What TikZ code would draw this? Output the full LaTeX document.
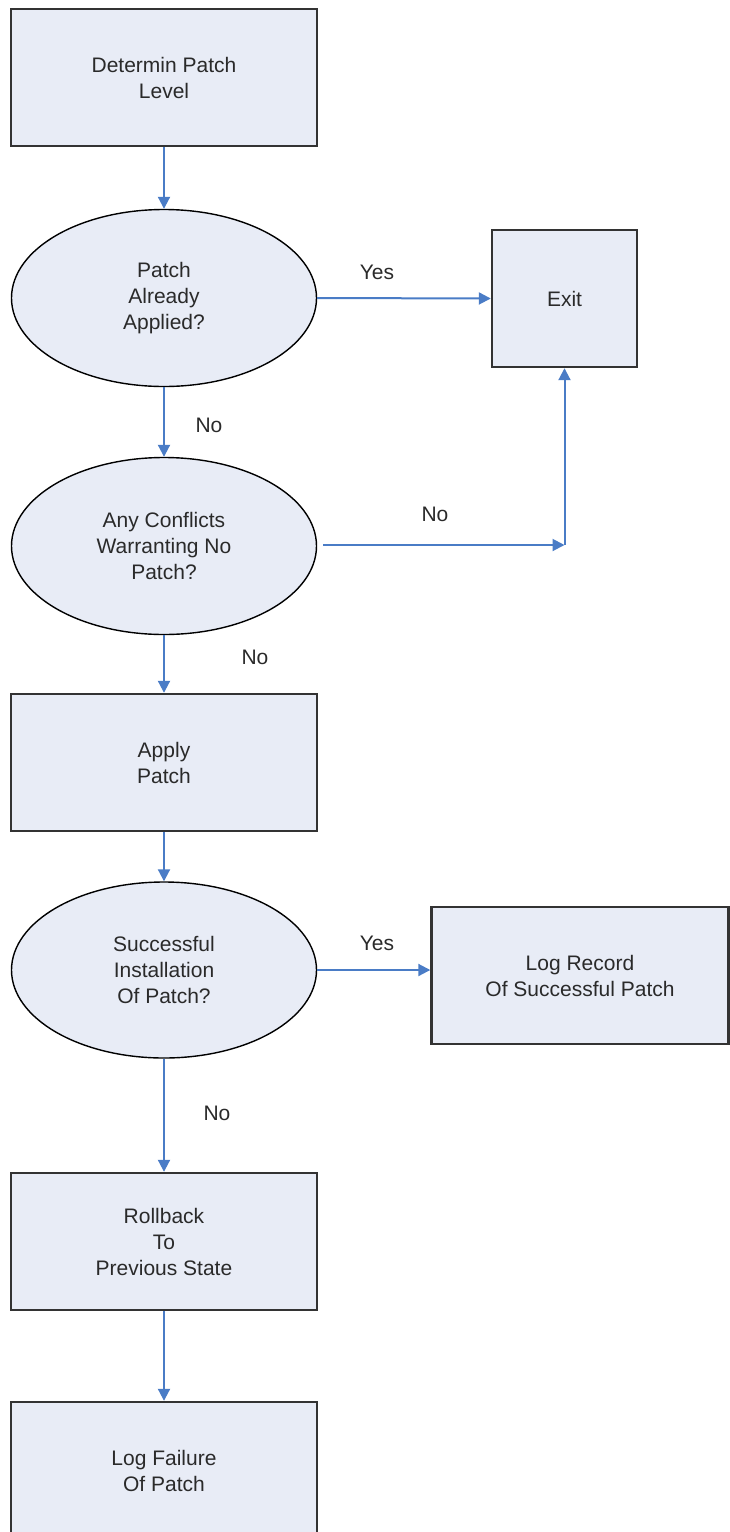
\documentclass[tikz,border=0pt]{standalone}
\usepackage{fontspec}
\setmainfont{Liberation Sans}
\usetikzlibrary{arrows.meta,shapes.geometric}
\definecolor{fillc}{HTML}{E8ECF6}
\definecolor{linec}{HTML}{333333}
\definecolor{arrc}{HTML}{4A7CC6}
\definecolor{txtc}{HTML}{2A2A2A}
\tikzset{
  x=1pt, y=-1pt,
  every node/.style={font=\fontsize{21}{26}\selectfont, text=txtc, align=center, inner sep=0pt},
  stepbox/.style={draw=linec, line width=2.4pt, fill=fillc, minimum width=306pt, minimum height=137pt},
  decision/.style={ellipse, draw=black, line width=1.4pt, fill=fillc, minimum width=305pt, minimum height=177pt},
  arr/.style={draw=arrc, line width=2pt, -{Triangle[length=12pt,width=12pt]}},
  lbl/.style={}
}
\begin{document}
\begin{tikzpicture}
\useasboundingbox (0,0) rectangle (730,1532);
\clip (0,0) rectangle (730,1532);
\node[stepbox] (b1) at (164,77.5) {Determin Patch\\Level};
\node[decision] (e1) at (164,298) {Patch\\Already\\Applied?};
\node[stepbox, minimum width=145pt] (exit) at (564.5,298.5) {Exit};
\node[decision] (e2) at (164,546) {Any Conflicts\\Warranting No\\Patch?};
\node[stepbox] (apply) at (164,762.5) {Apply\\Patch};
\node[decision, minimum height=176pt] (e3) at (164,970) {Successful\\Installation\\Of Patch?};
\node[stepbox, minimum width=297pt] (logrec) at (580,975.5) {Log Record\\Of Successful Patch};
\node[stepbox] (roll) at (164,1241.5) {Rollback\\To\\Previous State};
\node[stepbox] (logfail) at (164,1470.5) {Log Failure\\Of Patch};
\coordinate (c1) at (564.5,545);

\draw[arr] (b1.south) -- (e1.north);
\draw[arr] (e1.east) -- (exit.west);
\draw[arr] (e1.south) -- (e2.north);
\draw[arr, shorten <=6pt] (e2.east |- c1) -- (c1);
\draw[arr] (c1) -- (exit.south);
\draw[arr] (e2.south) -- (apply.north);
\draw[arr] (apply.south) -- (e3.north);
\draw[arr] (e3.east) -- (logrec.west |- e3.east);
\draw[arr] (e3.south) -- (roll.north);
\draw[arr] (roll.south) -- (logfail.north);

\node[lbl] (l1) at (377,272) {Yes};
\node[lbl] (l2) at (209,425) {No};
\node[lbl] (l3) at (435,514) {No};
\node[lbl] (l4) at (255,657) {No};
\node[lbl] (l5) at (377,943) {Yes};
\node[lbl] (l6) at (217,1113) {No};
\end{tikzpicture}
\end{document}
